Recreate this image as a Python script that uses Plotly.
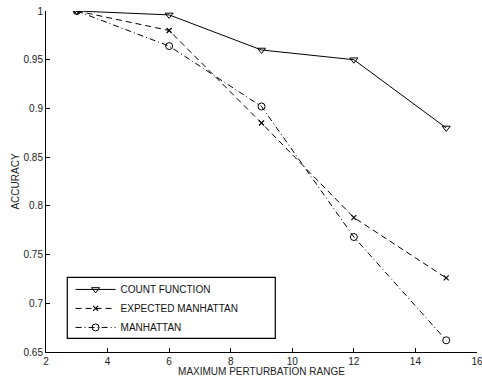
import plotly.graph_objects as go

# Accuracy vs. maximum perturbation range for three distance measures
perturbation_range = [3, 6, 9, 12, 15]
count_function = [1.0, 0.996, 0.960, 0.950, 0.880]
expected_manhattan = [1.0, 0.980, 0.885, 0.788, 0.726]
manhattan = [1.0, 0.964, 0.902, 0.768, 0.662]

x_ticks = [2, 4, 6, 8, 10, 12, 14, 16]
y_ticks = [0.65, 0.7, 0.75, 0.8, 0.85, 0.9, 0.95, 1.0]
y_tick_text = ["0.65", "0.7", "0.75", "0.8", "0.85", "0.9", "0.95", "1"]

FONT = "Liberation Sans, Arial, Helvetica, sans-serif"
INK = "#000000"

fig = go.Figure()

fig.add_trace(go.Scatter(
    x=perturbation_range, y=count_function, name="COUNT FUNCTION",
    mode="lines+markers",
    line=dict(color=INK, width=1, dash="solid"),
    marker=dict(symbol="triangle-down-open", size=7, color=INK, line=dict(width=1, color=INK)),
))
fig.add_trace(go.Scatter(
    x=perturbation_range, y=expected_manhattan, name="EXPECTED MANHATTAN",
    mode="lines+markers",
    line=dict(color=INK, width=1, dash="6px,4px"),
    marker=dict(symbol="x-thin", size=5, color=INK, line=dict(width=1.2, color=INK)),
))
fig.add_trace(go.Scatter(
    x=perturbation_range, y=manhattan, name="MANHATTAN",
    mode="lines+markers",
    line=dict(color=INK, width=1, dash="6px,3px,1px,3px"),
    marker=dict(symbol="circle-open", size=7, color=INK, line=dict(width=1, color=INK)),
))

# Legend frame drawn as a box in paper coordinates
fig.add_shape(
    type="rect", xref="paper", yref="paper",
    x0=0.0494, x1=0.532, y0=0.040, y1=0.219,
    line=dict(color=INK, width=1.2), fillcolor="white", layer="above",
)

fig.update_layout(
    width=482, height=377,
    margin=dict(l=46, r=5, t=11, b=25),
    paper_bgcolor="white", plot_bgcolor="white",
    font=dict(family=FONT, size=10, color="#222222"),
    showlegend=True,
    legend=dict(
        x=0.057, y=0.226, xanchor="left", yanchor="top",
        bgcolor="rgba(0,0,0,0)", borderwidth=0,
        font=dict(family=FONT, size=10, color="#111111"),
        itemwidth=40, tracegroupgap=0,
    ),
)

fig.update_xaxes(
    range=[2, 16], tickvals=x_ticks, ticktext=[str(v) for v in x_ticks],
    showgrid=False, zeroline=False, showline=True, linecolor=INK, linewidth=1,
    ticks="inside", ticklen=4, tickcolor=INK, mirror=False,
    ticklabeloverflow="allow", automargin=False,
    title=dict(text="MAXIMUM PERTURBATION RANGE", standoff=5, font=dict(size=10)),
)
fig.update_yaxes(
    range=[0.65, 1.0], tickvals=y_ticks, ticktext=y_tick_text,
    showgrid=False, zeroline=False, showline=True, linecolor=INK, linewidth=1,
    ticks="inside", ticklen=4, tickcolor=INK, mirror=False,
    ticklabeloverflow="allow", automargin=False,
    title=dict(text="ACCURACY", standoff=2, font=dict(size=10)),
)

fig.write_html("out.html")
